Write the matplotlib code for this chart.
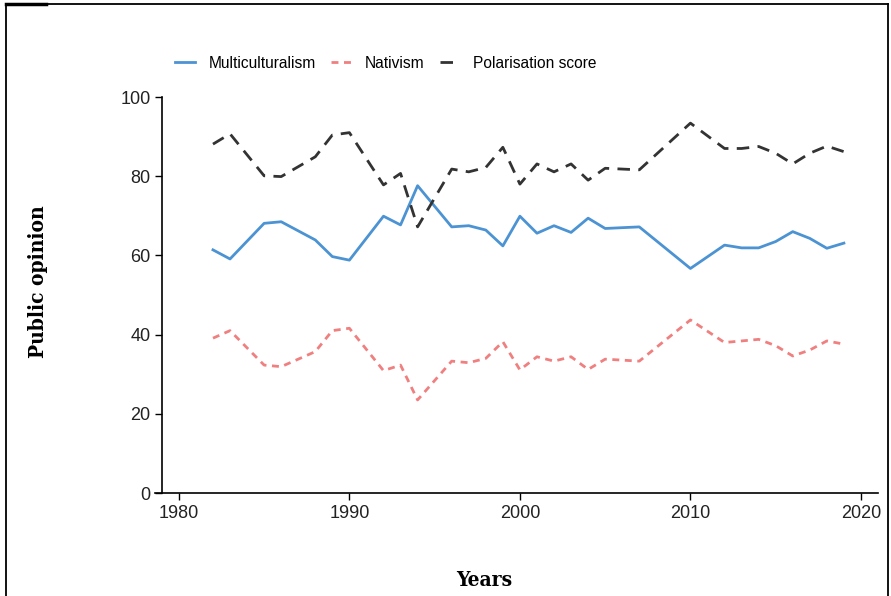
import numpy as np
import matplotlib.pyplot as plt
from matplotlib.lines import Line2D

# Yearly survey readings (missing years are simply joined by the line)
multi_years = [1982, 1983, 1985, 1986, 1988, 1989, 1990, 1992, 1993, 1994, 1996, 1997,
               1998, 1999, 2000, 2001, 2002, 2003, 2004, 2005, 2007, 2010, 2012, 2013,
               2014, 2015, 2016, 2017, 2018, 2019]
multiculturalism = [61.4, 59.1, 68.1, 68.5, 63.9, 59.7, 58.8, 69.9, 67.7, 77.6, 67.2, 67.5,
                    66.4, 62.4, 69.9, 65.6, 67.5, 65.8, 69.4, 66.8, 67.2, 56.7, 62.6, 61.9,
                    61.9, 63.5, 66.0, 64.3, 61.8, 63.1]

nat_years = [1982, 1983, 1985, 1986, 1988, 1989, 1990, 1992, 1993, 1994, 1996, 1997,
             1998, 1999, 2000, 2001, 2002, 2003, 2004, 2005, 2007, 2010, 2012, 2014,
             2015, 2016, 2017, 2018, 2019]
nativism = [39.1, 41.0, 32.3, 31.9, 35.7, 41.0, 41.6, 30.9, 32.3, 23.5, 33.3, 32.9,
            34.0, 38.2, 31.1, 34.4, 33.3, 34.4, 31.2, 33.8, 33.3, 43.7, 38.0, 38.8,
            37.2, 34.6, 36.1, 38.4, 37.6]

pol_years = [1982, 1983, 1985, 1986, 1988, 1989, 1990, 1992, 1993, 1994, 1996, 1997,
             1998, 1999, 2000, 2001, 2002, 2003, 2004, 2005, 2007, 2010, 2012, 2013,
             2014, 2015, 2016, 2017, 2018, 2019]
polarisation = [88.1, 90.7, 80.1, 79.9, 84.9, 90.4, 91.0, 77.8, 80.7, 67.2, 81.8, 81.1,
                82.2, 87.3, 78.0, 83.1, 81.1, 83.1, 79.0, 82.0, 81.6, 93.4, 87.0, 87.0,
                87.5, 85.8, 83.1, 85.8, 87.6, 86.2]

x_ticks = [1980, 1990, 2000, 2010, 2020]
y_ticks = [0, 20, 40, 60, 80, 100]

plt.rcParams["font.family"] = ["Liberation Sans", "DejaVu Sans"]
title_font = ["DejaVu Serif", "Liberation Serif"]

fig = plt.figure(figsize=(8.91, 5.96), dpi=100)
ax = fig.add_axes([155 / 891, 1 - 493 / 596, (878 - 155) / 891, (493 - 97) / 596])

ax.plot(multi_years, multiculturalism, color="#4C93D3", lw=2.0, label="Multiculturalism")
ax.plot(nat_years, nativism, color="#F08080", lw=2.0, dashes=(2.5, 2.0), label="Nativism")
ax.plot(pol_years, polarisation, color="#333333", lw=2.0, dashes=(4.5, 3.0),
        label="Polarisation score")

ax.set_xlim(1978.6, 2021.0)
ax.set_ylim(0, 100)
ax.set_xticks(x_ticks)
ax.set_yticks(y_ticks)
ax.tick_params(direction="out", length=5, width=1, colors="black",
               labelcolor="#222222", labelsize=13)
ax.tick_params(axis="x", pad=4)
ax.tick_params(axis="y", pad=3)

for side in ("top", "right"):
    ax.spines[side].set_visible(False)
ax.spines["left"].set_position(("data", 1979.0))
for side in ("left", "bottom"):
    ax.spines[side].set_linewidth(1.2)

fig.text(484 / 891, 1 - 580 / 596, "Years", family=title_font, fontweight="bold",
         fontstretch="condensed", fontsize=15, ha="center", va="center")
fig.text(38 / 891, 1 - 282 / 596, "Public opinion", family=title_font, fontweight="bold",
         fontstretch="condensed", fontsize=15, ha="center", va="center", rotation=90)

fig.legend(loc="center left", bbox_to_anchor=(161 / 891, 1 - 63 / 596), ncol=3,
           frameon=False, handlelength=1.3, handletextpad=0.85, columnspacing=1.0,
           prop={"size": 11.2})

# page frame around the figure
frame_kw = dict(transform=fig.transFigure, color="black", lw=1.3)
fig.add_artist(Line2D([6 / 891, 888 / 891], [1 - 4 / 596, 1 - 4 / 596], **frame_kw))
fig.add_artist(Line2D([6 / 891, 6 / 891], [0, 1 - 4 / 596], **frame_kw))
fig.add_artist(Line2D([888 / 891, 888 / 891], [0, 1 - 4 / 596], **frame_kw))
fig.add_artist(Line2D([6 / 891, 46 / 891], [1 - 4 / 596, 1 - 4 / 596],
                      transform=fig.transFigure, color="black", lw=2.5))

fig.savefig("out.png", dpi=100)
